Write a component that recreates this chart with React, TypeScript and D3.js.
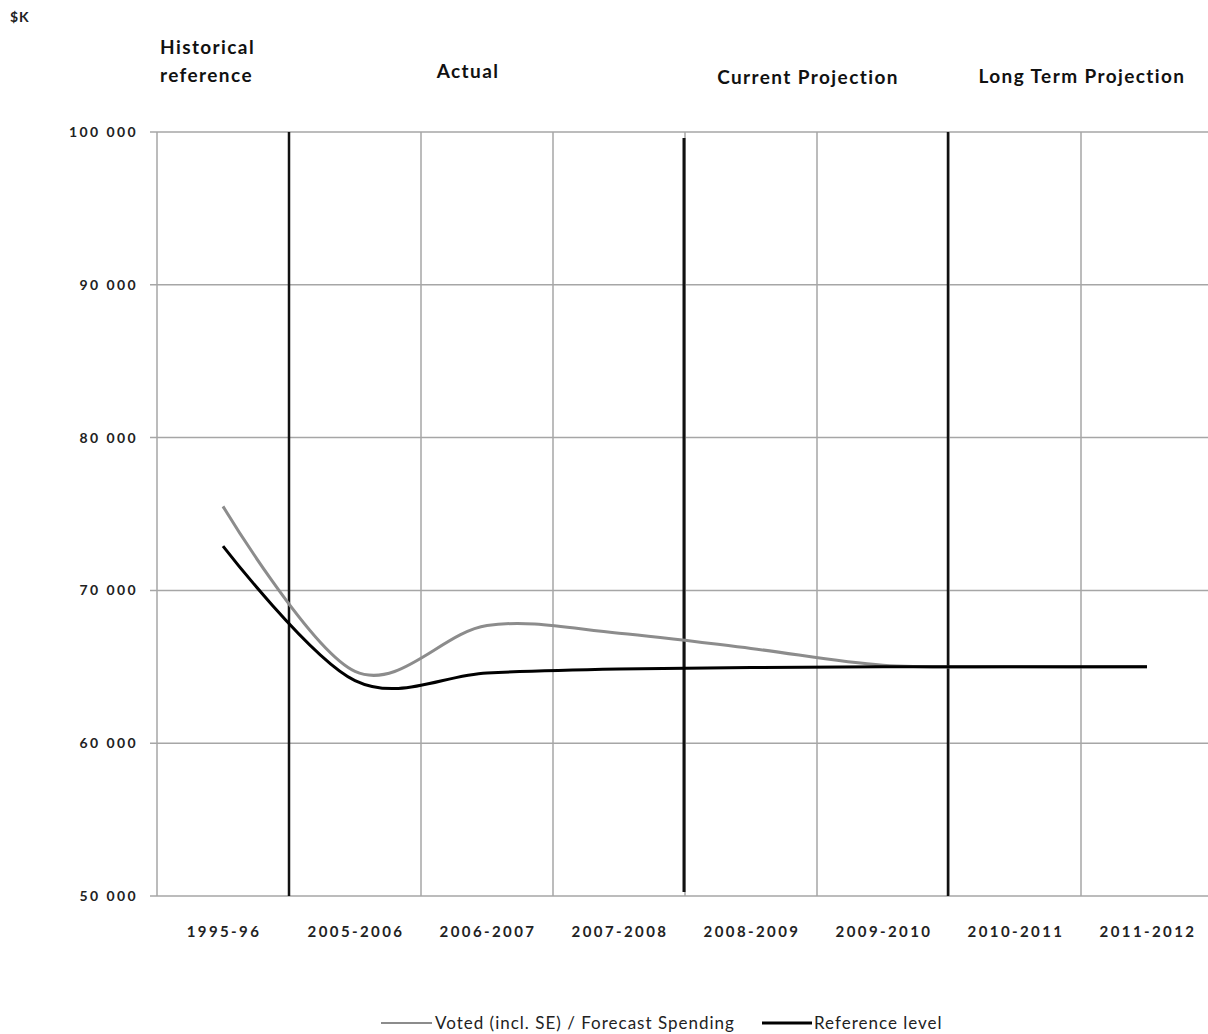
import React from "react";
import * as d3 from "d3";

const categories = ["1995-96", "2005-2006", "2006-2007", "2007-2008", "2008-2009", "2009-2010", "2010-2011", "2011-2012"];
const votedSpending = [75500, 64700, 67700, 67200, 66200, 65100, 65000, 65000];
const referenceLevel = [72900, 64100, 64600, 64850, 64950, 65000, 65000, 65000];
const yTicks = [50000, 60000, 70000, 80000, 90000, 100000];
const periodLabels = [
  { lines: ["Historical", "reference"], x: 160, y: 54, anchor: "start" },
  { lines: ["Actual"], x: 468, y: 78, anchor: "middle" },
  { lines: ["Current Projection"], x: 808, y: 84, anchor: "middle" },
  { lines: ["Long Term Projection"], x: 1082, y: 83, anchor: "middle" },
];
const seriesNames = ["Voted (incl. SE) / Forecast Spending", "Reference level"];

const W = 1208, H = 1034;
const left = 157, right = 1213, top = 132, bottom = 896;
const FONT = "Lato, 'Open Sans', sans-serif";

export default function App() {
  const x = d3.scaleBand<string>().domain(categories).range([left, right]).padding(0);
  const y = d3.scaleLinear().domain([50000, 100000]).range([bottom, top]);
  const cx = (c: string) => (x(c) as number) + x.bandwidth() / 2;
  const line = d3
    .line<number>()
    .x((_, i) => cx(categories[i]))
    .y((d) => y(d))
    .curve(d3.curveCardinal.tension(0));
  const fmt = (v: number) => d3.format(",")(v).replace(/,/g, " ");
  const boundaries = categories.map((c) => x(c) as number).concat([right]);
  const thick1 = x(categories[1]) as number;
  const thick2 = (x(categories[4]) as number) - 1;
  const thick3 = (x(categories[6]) as number) - 1;

  return (
    <svg width={W} height={H} style={{ position: "absolute", left: 0, top: 0, background: "#fff" }} fontFamily={FONT}>
      <rect x={0} y={0} width={W} height={H} fill="#fff" />
      <text x={10} y={22} fontSize={14} fontWeight="bold" fill="#222" letterSpacing={1}>$K</text>
      {periodLabels.map((p, i) => (
        <text key={i} x={p.x} y={p.y} fontSize={19} fontWeight="bold" textAnchor={p.anchor as any} fill="#111" letterSpacing={1.4}>
          {p.lines.map((l, j) => (
            <tspan key={j} x={p.x} dy={j === 0 ? 0 : 28}>{l}</tspan>
          ))}
        </text>
      ))}
      {yTicks.map((t) => (
        <g key={t}>
          <line x1={left - 7} x2={right} y1={y(t)} y2={y(t)} stroke="#a6a6a6" strokeWidth={1.5} />
          <text x={138} y={y(t) + 5} fontSize={14} fontWeight="bold" textAnchor="end" fill="#222" letterSpacing={2.4}>{fmt(t)}</text>
        </g>
      ))}
      {boundaries.map((b, i) => (
        <line key={i} x1={b} x2={b} y1={top} y2={bottom} stroke="#a6a6a6" strokeWidth={1.5} />
      ))}
      <line x1={thick1} x2={thick1} y1={top} y2={bottom} stroke="#111" strokeWidth={2.5} />
      <line x1={thick2} x2={thick2} y1={top + 6} y2={bottom - 4} stroke="#111" strokeWidth={3} />
      <line x1={thick3} x2={thick3} y1={top} y2={bottom} stroke="#111" strokeWidth={2.5} />
      {categories.map((c) => (
        <text key={c} x={cx(c) + 1} y={937} fontSize={15} fontWeight="bold" textAnchor="middle" fill="#222" letterSpacing={2.4}>{c}</text>
      ))}
      <path d={line(votedSpending) as string} fill="none" stroke="#8c8c8c" strokeWidth={3} />
      <path d={line(referenceLevel) as string} fill="none" stroke="#000" strokeWidth={3} />
      <line x1={381} x2={432} y1={1023} y2={1023} stroke="#8c8c8c" strokeWidth={2} />
      <text x={435} y={1029} fontSize={17} fill="#222" letterSpacing={1}>{seriesNames[0]}</text>
      <line x1={762} x2={812} y1={1023} y2={1023} stroke="#000" strokeWidth={3} />
      <text x={814} y={1029} fontSize={17} fill="#222" letterSpacing={1}>{seriesNames[1]}</text>
    </svg>
  );
}
